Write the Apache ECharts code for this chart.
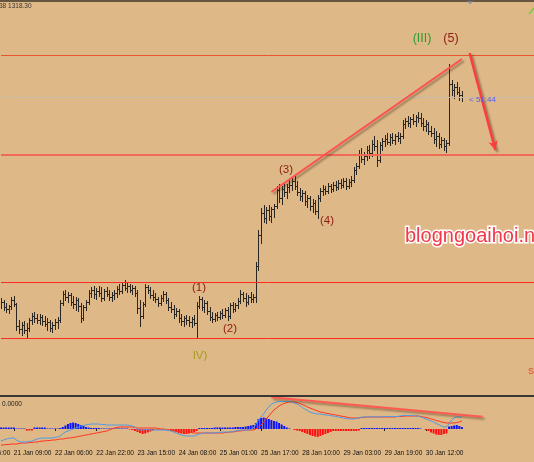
<!DOCTYPE html>
<html><head><meta charset="utf-8">
<script src="https://cdn.jsdelivr.net/npm/echarts@6/dist/echarts.min.js"></script>
<style>html,body{margin:0;padding:0;background:#DEB887;}#c{width:534px;height:462px;}</style>
</head><body><div id="c"></div><script>
// ---- price data (H1 bars) ----
const opens = [
1297.5,1297.8,1297.3,1297.1,1297.4,1298.0,1297.6,1295.4,1295.1,1295.5,
1295.0,1295.2,1296.0,1296.4,1296.2,1296.0,1296.3,1295.9,1295.6,1295.8,
1295.2,1295.5,1295.8,1296.0,1297.7,1298.6,1298.3,1298.5,1297.8,1297.6,
1298.0,1297.4,1296.2,1297.3,1297.8,1298.7,1299.0,1298.6,1298.9,1298.7,
1298.2,1298.9,1298.6,1298.3,1298.5,1298.7,1299.1,1298.9,1299.5,1299.2,
1299.4,1299.0,1299.2,1298.7,1297.2,1296.4,1297.6,1299.3,1299.0,1298.5,
1298.3,1298.1,1297.7,1298.2,1298.6,1298.0,1297.3,1297.1,1296.6,1296.9,
1296.2,1295.9,1296.2,1296.0,1295.8,1296.1,1295.7,1297.4,1298.1,1297.3,
1297.7,1296.9,1296.3,1296.1,1296.5,1296.3,1296.7,1296.5,1297.0,1296.4,
1297.5,1297.1,1297.5,1297.9,1298.6,1298.2,1297.8,1298.3,1298.1,1298.3,
1301.4,1304.5,1306.7,1306.2,1307.0,1306.4,1307.1,1307.4,1309.0,1308.2,
1309.1,1308.8,1309.3,1309.5,1309.9,1309.4,1308.8,1308.4,1308.7,1307.9,
1308.2,1307.4,1307.7,1306.9,1308.2,1308.9,1309.1,1308.9,1309.4,1309.1,
1309.5,1309.3,1309.7,1309.5,1309.9,1309.4,1309.8,1310.0,1311.0,1311.4,
1312.6,1312.1,1312.4,1313.0,1312.7,1313.6,1313.4,1312.0,1313.5,1313.9,
1314.1,1313.8,1314.3,1314.0,1314.4,1314.2,1314.4,1315.6,1315.9,1315.7,
1316.1,1315.9,1316.3,1316.2,1315.7,1315.4,1315.6,1314.9,1314.7,1314.1,
1314.4,1313.6,1314.0,1313.4,1313.7,1319.6,1319.0,1319.3,1318.8,1318.5];
const highs = [
1298.2,1298.0,1297.7,1297.5,1298.3,1298.4,1297.7,1296.0,1295.8,1295.9,
1295.7,1296.2,1296.7,1296.8,1296.6,1296.6,1296.5,1296.4,1296.2,1296.0,
1295.8,1296.1,1296.3,1298.0,1298.9,1299.0,1298.8,1298.7,1298.4,1298.3,
1298.2,1297.7,1297.5,1298.0,1299.0,1299.3,1299.4,1299.2,1299.4,1299.3,
1299.1,1299.3,1299.0,1298.8,1299.0,1299.4,1299.6,1299.8,1300.0,1299.7,
1299.6,1299.5,1299.4,1299.0,1298.0,1297.8,1299.6,1299.5,1299.3,1299.0,
1298.7,1298.3,1298.5,1298.9,1298.8,1298.2,1297.8,1297.5,1297.2,1297.1,
1296.6,1296.4,1296.5,1296.4,1296.3,1296.5,1297.8,1298.4,1298.3,1298.0,
1297.9,1297.3,1296.8,1296.7,1296.8,1296.9,1297.1,1297.2,1297.3,1297.7,
1297.8,1297.7,1298.2,1299.0,1298.8,1298.7,1298.5,1298.8,1298.6,1301.8,
1305.0,1307.2,1307.5,1307.3,1307.5,1307.3,1307.6,1309.4,1309.6,1309.4,
1309.8,1309.6,1310.0,1310.3,1310.5,1309.9,1309.2,1309.0,1308.9,1308.5,
1308.4,1308.1,1308.0,1308.5,1309.2,1309.5,1309.4,1309.7,1309.6,1309.8,
1309.9,1310.0,1310.1,1310.2,1310.2,1310.1,1310.4,1311.3,1311.7,1313.0,
1313.2,1312.8,1313.4,1313.5,1314.0,1314.4,1314.0,1313.8,1314.2,1314.5,
1314.7,1314.6,1314.7,1314.6,1314.8,1314.7,1316.0,1316.2,1316.4,1316.3,
1316.6,1316.5,1316.8,1316.7,1316.2,1316.0,1315.8,1315.4,1315.2,1314.9,
1314.7,1314.3,1314.2,1314.0,1321.6,1320.0,1319.6,1319.8,1319.3,1318.9];
const lows = [
1297.2,1297.0,1296.8,1296.7,1297.1,1297.4,1295.0,1294.7,1294.5,1294.7,
1294.2,1294.9,1295.6,1295.8,1295.7,1295.6,1295.5,1295.4,1295.0,1294.9,
1294.8,1295.1,1295.2,1295.8,1297.5,1298.0,1297.8,1297.5,1297.2,1297.0,
1296.9,1295.8,1296.0,1297.0,1297.6,1298.3,1298.2,1298.1,1298.4,1297.9,
1298.0,1298.4,1298.0,1297.9,1298.1,1298.3,1298.6,1298.7,1299.0,1298.8,
1298.8,1298.6,1298.4,1296.7,1295.4,1296.2,1297.4,1298.7,1298.2,1298.0,
1297.8,1297.4,1297.5,1297.9,1297.7,1297.0,1296.8,1296.2,1296.4,1295.8,
1295.5,1295.4,1295.6,1295.4,1295.3,1295.5,1294.2,1297.2,1297.0,1296.8,
1296.6,1296.0,1295.8,1295.9,1296.0,1296.1,1296.2,1296.3,1296.0,1296.2,
1296.8,1296.9,1297.2,1297.7,1297.9,1297.4,1297.6,1297.8,1297.8,1297.8,
1301.0,1303.7,1305.8,1305.7,1306.0,1305.8,1306.3,1307.2,1307.8,1307.6,
1308.4,1308.2,1308.8,1309.0,1309.1,1308.5,1308.0,1307.9,1307.5,1307.3,
1307.0,1306.8,1306.6,1306.2,1307.9,1308.5,1308.6,1308.7,1308.8,1308.9,
1309.0,1309.1,1309.2,1309.3,1309.1,1309.2,1309.4,1309.8,1310.6,1311.2,
1311.8,1311.6,1312.0,1312.2,1312.4,1313.0,1311.4,1311.8,1313.0,1313.4,
1313.6,1313.5,1313.7,1313.6,1313.9,1313.7,1314.2,1315.2,1315.4,1315.3,
1315.6,1315.4,1315.8,1315.4,1315.0,1314.9,1314.6,1314.4,1313.7,1313.4,
1313.2,1313.3,1313.0,1312.8,1313.5,1318.5,1318.2,1318.6,1318.0,1317.9];
const closes = [
1297.8,1297.3,1297.1,1297.4,1298.0,1297.6,1295.4,1295.1,1295.5,1295.0,
1295.2,1296.0,1296.4,1296.2,1296.0,1296.3,1295.9,1295.6,1295.8,1295.2,
1295.5,1295.8,1296.0,1297.7,1298.6,1298.3,1298.5,1297.8,1297.6,1298.0,
1297.4,1296.2,1297.3,1297.8,1298.7,1299.0,1298.6,1298.9,1298.7,1298.2,
1298.9,1298.6,1298.3,1298.5,1298.7,1299.1,1298.9,1299.5,1299.2,1299.4,
1299.0,1299.2,1298.7,1297.2,1296.4,1297.6,1299.3,1299.0,1298.5,1298.3,
1298.1,1297.7,1298.2,1298.6,1298.0,1297.3,1297.1,1296.6,1296.9,1296.2,
1295.9,1296.2,1296.0,1295.8,1296.1,1295.7,1297.4,1298.1,1297.3,1297.7,
1296.9,1296.3,1296.1,1296.5,1296.3,1296.7,1296.5,1297.0,1296.4,1297.5,
1297.1,1297.5,1297.9,1298.6,1298.2,1297.8,1298.3,1298.1,1298.3,1301.4,
1304.5,1306.7,1306.2,1307.0,1306.4,1307.1,1307.4,1309.0,1308.2,1309.1,
1308.8,1309.3,1309.5,1309.9,1309.4,1308.8,1308.4,1308.7,1307.9,1308.2,
1307.4,1307.7,1306.9,1308.2,1308.9,1309.1,1308.9,1309.4,1309.1,1309.5,
1309.3,1309.7,1309.5,1309.9,1309.4,1309.8,1310.0,1311.0,1311.4,1312.6,
1312.1,1312.4,1313.0,1312.7,1313.6,1313.4,1312.0,1313.5,1313.9,1314.1,
1313.8,1314.3,1314.0,1314.4,1314.2,1314.4,1315.6,1315.9,1315.7,1316.1,
1315.9,1316.3,1316.2,1315.7,1315.4,1315.6,1314.9,1314.7,1314.1,1314.4,
1313.6,1314.0,1313.4,1313.7,1319.6,1319.0,1319.3,1318.8,1318.5,1318.3];

// ---- MACD sub-window ----
const macdMain = [
-1.2,-1.1,-1.0,-0.95,-0.9,-0.9,-1.1,-1.25,-1.3,-1.3,
-1.3,-1.25,-1.2,-1.1,-1.0,-0.95,-0.9,-0.9,-0.9,-0.9,
-0.9,-0.85,-0.8,-0.7,-0.5,-0.3,-0.2,-0.1,0.0,0.1,
0.2,0.3,0.35,0.4,0.45,0.5,0.5,0.5,0.5,0.45,
0.45,0.4,0.4,0.4,0.4,0.4,0.4,0.4,0.4,0.4,
0.35,0.3,0.2,0.0,-0.1,-0.1,-0.05,-0.05,-0.1,-0.1,
-0.1,-0.1,-0.1,-0.1,-0.1,-0.15,-0.2,-0.3,-0.4,-0.5,
-0.6,-0.65,-0.7,-0.7,-0.7,-0.7,-0.6,-0.5,-0.45,-0.4,
-0.4,-0.4,-0.4,-0.4,-0.35,-0.35,-0.3,-0.3,-0.3,-0.3,
-0.25,-0.2,-0.15,-0.1,-0.1,-0.1,-0.1,-0.05,0.1,0.5,
0.9,1.2,1.5,1.9,2.2,2.5,2.6,2.7,2.75,2.75,
2.75,2.75,2.75,2.7,2.6,2.5,2.35,2.15,2.0,1.85,
1.7,1.6,1.55,1.5,1.5,1.45,1.4,1.4,1.35,1.3,
1.25,1.2,1.15,1.1,1.05,1.0,1.0,1.0,1.05,1.1,
1.2,1.2,1.2,1.2,1.2,1.25,1.2,1.2,1.25,1.25,
1.25,1.25,1.25,1.25,1.25,1.3,1.35,1.35,1.35,1.35,
1.35,1.3,1.3,1.2,1.1,1.0,0.9,0.8,0.7,0.55,
0.45,0.3,0.2,0.2,0.5,0.9,1.1,1.2,1.2,1.2];
const macdSignal = [
-1.6,-1.6,-1.55,-1.55,-1.5,-1.5,-1.5,-1.45,-1.4,-1.4,
-1.4,-1.35,-1.35,-1.3,-1.3,-1.25,-1.2,-1.2,-1.15,-1.15,
-1.1,-1.1,-1.05,-1.0,-1.0,-0.95,-0.9,-0.9,-0.85,-0.8,
-0.75,-0.7,-0.65,-0.6,-0.55,-0.5,-0.45,-0.4,-0.35,-0.3,
-0.25,-0.2,-0.1,0.0,0.1,0.15,0.2,0.2,0.2,0.2,
0.2,0.2,0.15,0.1,0.1,0.1,0.1,0.1,0.1,0.1,
0.1,0.05,0.0,0.0,-0.05,-0.1,-0.15,-0.2,-0.2,-0.2,
-0.2,-0.25,-0.3,-0.3,-0.35,-0.4,-0.4,-0.4,-0.4,-0.4,
-0.4,-0.4,-0.4,-0.4,-0.4,-0.4,-0.4,-0.35,-0.35,-0.3,
-0.3,-0.25,-0.2,-0.2,-0.15,-0.1,-0.1,-0.1,-0.1,0.0,
0.2,0.4,0.7,1.0,1.3,1.6,1.9,2.1,2.3,2.45,
2.55,2.65,2.7,2.7,2.7,2.65,2.55,2.45,2.35,2.2,
2.1,2.0,1.9,1.8,1.7,1.65,1.6,1.55,1.5,1.45,
1.4,1.35,1.3,1.25,1.2,1.15,1.1,1.1,1.1,1.1,
1.15,1.15,1.2,1.2,1.2,1.2,1.2,1.2,1.2,1.2,
1.2,1.2,1.2,1.2,1.25,1.25,1.25,1.3,1.3,1.3,
1.3,1.3,1.3,1.25,1.2,1.15,1.1,1.0,0.95,0.85,
0.8,0.7,0.65,0.6,0.6,0.6,0.6,0.65,0.7,0.8];
const macdHist = [
0.15,0.15,0.15,0.15,0.15,0.15,0.05,0.05,0.05,0.05,
-0.15,-0.15,-0.15,0.15,0.15,0.15,0.15,0.15,0.05,0.05,
0.05,0.05,0.05,0.1,0.2,0.35,0.5,0.6,0.65,0.6,
0.5,0.4,0.3,0.2,0.15,0.1,0.1,0.1,0.1,0.05,
0.05,0.05,0.05,0.05,0.05,0.05,0.05,0.05,0.05,0.05,
-0.05,-0.1,-0.2,-0.3,-0.4,-0.5,-0.45,-0.35,-0.25,-0.15,
-0.05,-0.05,-0.05,-0.05,-0.05,-0.05,-0.1,-0.2,-0.3,-0.4,
-0.45,-0.5,-0.5,-0.45,-0.4,-0.3,-0.2,0.1,0.1,0.1,
0.1,0.1,0.1,0.15,0.15,0.15,0.15,0.15,0.15,0.15,
0.15,0.2,0.2,0.2,0.2,0.25,0.3,0.35,0.4,0.6,
1.0,1.1,1.15,1.1,1.0,0.9,0.8,0.75,0.6,0.45,
0.3,0.15,0.05,0.0,-0.1,-0.15,-0.2,-0.3,-0.4,-0.5,
-0.6,-0.7,-0.75,-0.8,-0.7,-0.6,-0.5,-0.4,-0.3,-0.2,
-0.2,-0.2,-0.2,-0.2,-0.2,-0.2,-0.2,-0.2,-0.2,-0.15,
0.1,0.1,0.1,0.1,0.1,0.1,0.1,0.1,0.1,0.1,
0.1,0.1,0.1,0.1,0.1,0.1,0.1,0.1,0.1,0.1,
0.1,0.1,0.1,0.05,0.0,-0.1,-0.2,-0.35,-0.45,-0.55,
-0.6,-0.6,-0.5,-0.45,0.25,0.3,0.35,0.4,0.3,0.2];

// ---- time axis tick labels (bar index -> text) ----
const tickBars = [-11,5,21,37,53,69,85,101,117,133,149,165];
const tickLabels = ["18 Jan 16:00","21 Jan 09:00","22 Jan 06:00","22 Jan 22:00","23 Jan 15:00","24 Jan 08:00","25 Jan 01:00","25 Jan 17:00","28 Jan 10:00","29 Jan 03:00","29 Jan 19:00","30 Jan 12:00"];

// ---- horizontal levels and drawn lines (bar index, price) ----
const resistanceLevels = [1322.5, 1312.5];
const rangeLevels = [1299.8, 1294.2];
const bidPrice = 1318.3;
const trendMain = [[105.1, 1308.8], [178.9, 1322.1]];
const arrowMain = [[182.1, 1322.7], [191.5, 1313.0]];
const trendMacd = [[104.5, 3.17], [187.2, 1.23]];

const NCAT = 208, GL = 1, GW = 533;
const STEP = GW / (NCAT - 1);
const cats = Array.from({length: NCAT}, (_, k) => k);
const tickMap = {};
tickBars.forEach((b, j) => { if (b >= 0) tickMap[b] = tickLabels[j]; });
const ohlc = closes.map((c, i) => [i, opens[i], highs[i], lows[i], c]);

const SMALL = "'Liberation Sans Narrow','Liberation Sans',Arial,sans-serif";
const LAB = "'Liberation Sans',Arial,sans-serif";
const shadowLine = (color, w) => ({color, width: w, type: 'solid', shadowBlur: 2, shadowColor: 'rgba(60,40,20,0.45)', shadowOffsetX: 2, shadowOffsetY: 2});

const chart = echarts.init(document.getElementById('c'), null, {renderer: 'canvas'});
chart.setOption({
  backgroundColor: '#DEB887',
  animation: false,
  grid: [
    {left: GL, right: 0, top: 2, height: 393},
    {left: GL, right: 0, top: 397, height: 50}
  ],
  xAxis: [
    {type: 'category', gridIndex: 0, data: cats, boundaryGap: false, show: false},
    {type: 'category', gridIndex: 1, data: cats, boundaryGap: false,
      axisLine: {show: false},
      axisTick: {show: true, interval: (idx) => tickMap[idx] !== undefined, length: 2, lineStyle: {color: '#222'}},
      axisLabel: {interval: (idx) => tickMap[idx] !== undefined, formatter: (v, idx) => tickMap[idx] || '',
        align: 'left', margin: 3, fontSize: 6.5, color: '#111', fontFamily: SMALL, hideOverlap: false},
      splitLine: {show: false}}
  ],
  yAxis: [
    {type: 'value', gridIndex: 0, min: 1288.5, max: 1327.8, show: false},
    {type: 'value', gridIndex: 1, min: -1.8, max: 3.2, show: false}
  ],
  series: [
    {
      type: 'custom', xAxisIndex: 0, yAxisIndex: 0, data: ohlc, clip: true, silent: true,
      encode: {x: 0, y: [1, 2, 3, 4]},
      renderItem: function (params, api) {
        const i = api.value(0);
        const o = api.coord([i, api.value(1)]);
        const h = api.coord([i, api.value(2)]);
        const l = api.coord([i, api.value(3)]);
        const c = api.coord([i, api.value(4)]);
        const x = Math.round(o[0]) + 0.5;
        const st = {stroke: '#2a2622', lineWidth: 1};
        return {type: 'group', children: [
          {type: 'line', shape: {x1: x, y1: Math.round(h[1]), x2: x, y2: Math.round(l[1]) + 1}, style: st},
          {type: 'line', shape: {x1: x - 1.5, y1: Math.round(o[1]) + 0.5, x2: x, y2: Math.round(o[1]) + 0.5}, style: st},
          {type: 'line', shape: {x1: x, y1: Math.round(c[1]) + 0.5, x2: x + 1.5, y2: Math.round(c[1]) + 0.5}, style: st}
        ]};
      },
      markLine: {
        silent: true, symbol: ['none', 'none'], label: {show: false}, animation: false,
        data: [
          {yAxis: resistanceLevels[0], lineStyle: {color: '#e8542e', width: 1, type: 'solid'}},
          {yAxis: resistanceLevels[1], lineStyle: {color: '#f06a55', width: 2, type: 'solid'}},
          {yAxis: rangeLevels[0], lineStyle: {color: '#ff2a22', width: 1, type: 'solid'}},
          {yAxis: rangeLevels[1], lineStyle: {color: '#ff2a22', width: 1, type: 'solid'}},
          {yAxis: bidPrice, lineStyle: {color: '#c8baa6', width: 1, type: 'solid'}},
          [{coord: trendMain[0], lineStyle: shadowLine('#ff5050', 2)}, {coord: trendMain[1]}],
          [{coord: arrowMain[0], symbol: 'none', lineStyle: shadowLine('#ff3c3c', 2.5)}, {coord: arrowMain[1], symbol: 'arrow', symbolSize: [7, 9]}]
        ]
      }
    },
    {
      type: 'bar', xAxisIndex: 1, yAxisIndex: 1, data: macdHist, barWidth: 2, silent: true,
      itemStyle: {color: p => (p.value >= 0 ? '#0a14ff' : '#ff1010')}
    },
    {
      type: 'line', xAxisIndex: 1, yAxisIndex: 1, data: macdSignal, showSymbol: false, silent: true,
      lineStyle: {color: '#ff3322', width: 1}, itemStyle: {color: '#ff3322'}
    },
    {
      type: 'line', xAxisIndex: 1, yAxisIndex: 1, data: macdMain, showSymbol: false, silent: true,
      lineStyle: {color: '#4f9be6', width: 1}, itemStyle: {color: '#4f9be6'},
      markLine: {
        silent: true, symbol: ['none', 'none'], label: {show: false},
        data: [[{coord: trendMacd[0], lineStyle: shadowLine('#ff5a50', 2)}, {coord: trendMacd[1]}]]
      }
    }
  ],
  graphic: [
    {type: 'line', shape: {x1: 0, y1: 1, x2: 534, y2: 1}, style: {stroke: '#3e3428', lineWidth: 1.5}, z: 10},
    {type: 'rect', shape: {x: 0, y: 395, width: 534, height: 2}, style: {fill: '#3a3835'}, z: 10},
    {type: 'polygon', shape: {points: [[467, 1.5], [473, 1.5], [470, 4.5]]}, style: {fill: '#8c98aa'}, z: 10},
    {type: 'line', shape: {x1: 529, y1: 14, x2: 534, y2: 8}, style: {stroke: '#78cc3c', lineWidth: 1.5}, z: 10},
    {type: 'text', x: GL + tickBars[0] * STEP, y: 453, style: {text: tickLabels[0], fill: '#111', font: '6.5px ' + SMALL, textVerticalAlign: 'middle'}, z: 10},
    {type: 'text', x: -1, y: 6, style: {text: '38 1318.30', fill: '#3a3530', font: '6.5px ' + SMALL, textVerticalAlign: 'middle'}, z: 10},
    {type: 'text', x: 2, y: 404, style: {text: '0.0000', fill: '#222', font: '6.5px ' + SMALL, textVerticalAlign: 'middle'}, z: 10},
    {type: 'text', x: 422, y: 39, style: {text: '(III)', fill: '#2e9a2e', font: '12.5px ' + LAB, textAlign: 'center', textVerticalAlign: 'middle'}, z: 10},
    {type: 'text', x: 451, y: 39, style: {text: '(5)', fill: '#8e1c12', font: '12.5px ' + LAB, textAlign: 'center', textVerticalAlign: 'middle'}, z: 10},
    {type: 'text', x: 286, y: 170, style: {text: '(3)', fill: '#8e1c12', font: '11.5px ' + LAB, textAlign: 'center', textVerticalAlign: 'middle'}, z: 10},
    {type: 'text', x: 327, y: 221, style: {text: '(4)', fill: '#8e1c12', font: '11.5px ' + LAB, textAlign: 'center', textVerticalAlign: 'middle'}, z: 10},
    {type: 'text', x: 199, y: 288, style: {text: '(1)', fill: '#8e1c12', font: '11.5px ' + LAB, textAlign: 'center', textVerticalAlign: 'middle'}, z: 10},
    {type: 'text', x: 230, y: 329, style: {text: '(2)', fill: '#8e1c12', font: '11.5px ' + LAB, textAlign: 'center', textVerticalAlign: 'middle'}, z: 10},
    {type: 'text', x: 200, y: 356, style: {text: 'IV)', fill: '#a59a22', font: '11.5px ' + LAB, textAlign: 'center', textVerticalAlign: 'middle'}, z: 10},
    {type: 'text', x: 469, y: 100, style: {text: '< 51:44', fill: '#5a5aee', font: '8px ' + LAB, textVerticalAlign: 'middle'}, z: 10},
    {type: 'text', x: 528, y: 372, style: {text: 'S', fill: '#e0452a', font: '9px ' + LAB, textVerticalAlign: 'middle'}, z: 10},
    {type: 'text', x: 405, y: 236, style: {text: 'blogngoaihoi.net', fill: '#f2384a', font: '20px ' + LAB,
      stroke: '#ffffff', lineWidth: 3, textVerticalAlign: 'middle',
      shadowBlur: 3, shadowColor: 'rgba(0,0,0,0.45)', shadowOffsetX: 2, shadowOffsetY: 2}, z: 10}
  ]
});
</script></body></html>
